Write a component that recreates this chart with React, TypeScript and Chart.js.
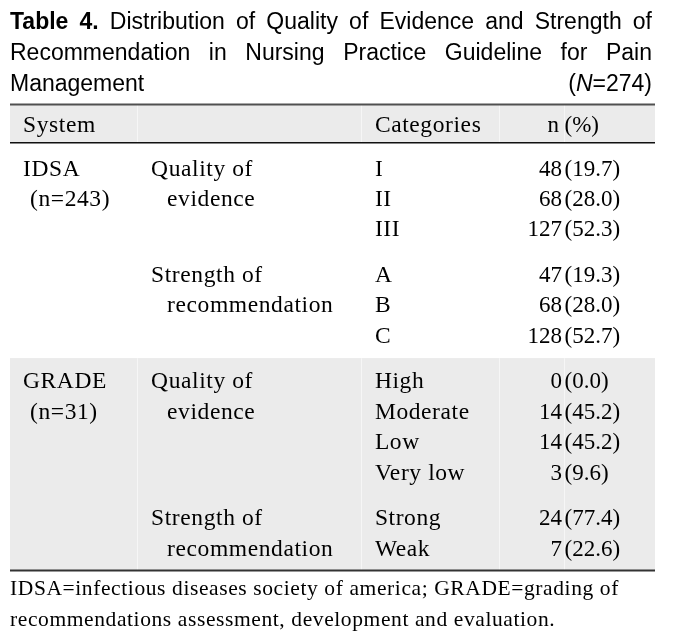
import React, { useEffect, useRef } from "react";
import { Chart, registerables } from "chart.js";

Chart.register(...registerables);

// ---------- data ----------
const titleLead = ["Table", "4."];
const titleText =
  "Distribution of Quality of Evidence and Strength of Recommendation in Nursing Practice Guideline for Pain Management";
const titleN = 274;

const headerSystem = "System";
const headerCategories = "Categories";
const headerN = "n";
const headerPct = "(%)";

const systems = ["IDSA", "GRADE"];
const systemNs = [243, 31];
const domainLabels = [
  ["Quality of", "evidence"],
  ["Strength of", "recommendation"],
];

const idsaQualityCats = ["I", "II", "III"];
const idsaQualityN = [48, 68, 127];
const idsaQualityPct = [19.7, 28.0, 52.3];

const idsaStrengthCats = ["A", "B", "C"];
const idsaStrengthN = [47, 68, 128];
const idsaStrengthPct = [19.3, 28.0, 52.7];

const gradeQualityCats = ["High", "Moderate", "Low", "Very low"];
const gradeQualityN = [0, 14, 14, 3];
const gradeQualityPct = [0.0, 45.2, 45.2, 9.6];

const gradeStrengthCats = ["Strong", "Weak"];
const gradeStrengthN = [24, 7];
const gradeStrengthPct = [77.4, 22.6];

const footnoteLines = [
  "IDSA=infectious diseases society of america; GRADE=grading of",
  "recommendations assessment, development and evaluation.",
];

// ---------- table structure (built from data) ----------
type Block = { system: number; domain: number; cats: string[]; n: number[]; pct: number[] };
const blocks: Block[] = [
  { system: 0, domain: 0, cats: idsaQualityCats, n: idsaQualityN, pct: idsaQualityPct },
  { system: 0, domain: 1, cats: idsaStrengthCats, n: idsaStrengthN, pct: idsaStrengthPct },
  { system: 1, domain: 0, cats: gradeQualityCats, n: gradeQualityN, pct: gradeQualityPct },
  { system: 1, domain: 1, cats: gradeStrengthCats, n: gradeStrengthN, pct: gradeStrengthPct },
];

type Row = { slot: number; col0: string; col0Indent: boolean; col1: string; col1Indent: boolean; cat: string; n: number; pct: number; system: number };
const rows: Row[] = [];
const sectionStart: number[] = [];
{
  let slot = 1.45;
  let prevSystem = -1;
  blocks.forEach((b) => {
    b.cats.forEach((c, i) => {
      let col0 = "";
      let col0Indent = false;
      if (b.system !== prevSystem) {
        if (i === 0) col0 = systems[b.system];
        if (i === 1) {
          col0 = `(n=${systemNs[b.system]})`;
          col0Indent = true;
        }
      }
      const dl = domainLabels[b.domain];
      rows.push({
        slot,
        col0,
        col0Indent,
        col1: i < dl.length ? dl[i] : "",
        col1Indent: i > 0,
        cat: c,
        n: b.n[i],
        pct: b.pct[i],
        system: b.system,
      });
      if (i === 0 && b.system !== prevSystem) sectionStart[b.system] = slot;
      slot += 1;
    });
    prevSystem = b.system;
    slot += 0.5;
  });
}
const headerSlot = 0;
const tableTopSlot = -0.625;
const headerBottomSlot = 0.625;
const lastSlot = rows[rows.length - 1].slot;
const tableBottomSlot = lastSlot + 0.72;
const gradeBoundarySlot = sectionStart[1] - 0.75;

// column edges as fractions of the table width
const colEdges = [0, 0.197, 0.544, 0.758, 0.859, 1];

const SERIF = '"Liberation Serif", "Times New Roman", serif';
const SANS = '"Liberation Sans", Arial, sans-serif';

const tablePlugin = {
  id: "tableDraw",
  afterDraw(chart: any) {
    const { ctx, chartArea, scales } = chart;
    const xs = scales.x;
    const ys = scales.y;
    const X = (f: number) => xs.getPixelForValue(f);
    const Y = (s: number) => ys.getPixelForValue(s);
    const left = chartArea.left;
    const right = chartArea.right;
    const w = right - left;
    ctx.save();

    // backgrounds
    const gray = "#ebebeb";
    ctx.fillStyle = gray;
    ctx.fillRect(left, Y(tableTopSlot), w, Y(headerBottomSlot) - Y(tableTopSlot));
    ctx.fillRect(left, Y(gradeBoundarySlot), w, Y(tableBottomSlot) - Y(gradeBoundarySlot));

    // faint vertical cell dividers
    ctx.fillStyle = "#f6f6f6";
    for (let i = 1; i < colEdges.length - 1; i++) {
      const px = Math.round(X(colEdges[i]));
      ctx.fillRect(px, Y(tableTopSlot), 1, Y(headerBottomSlot) - Y(tableTopSlot));
      ctx.fillRect(px, Y(gradeBoundarySlot), 1, Y(tableBottomSlot) - Y(gradeBoundarySlot));
    }

    // horizontal rules
    ctx.fillStyle = "#505050";
    ctx.fillRect(left, Y(tableTopSlot) - 1.5, w, 2);
    ctx.fillStyle = "#111";
    ctx.fillRect(left, Y(headerBottomSlot) - 1, w, 1.5);
    ctx.fillStyle = "#333";
    ctx.fillRect(left, Y(tableBottomSlot) - 0.5, w, 2);

    // table text
    const base = (s: number) => Y(s) + 7.5;
    const labelFont = `23.5px ${SERIF}`;
    ctx.fillStyle = "#000";
    ctx.textBaseline = "alphabetic";
    const c0 = X(colEdges[0]) + 13;
    const c1 = X(colEdges[1]) + 14;
    const c2 = X(colEdges[2]) + 14;
    const nRight = X(colEdges[4]) - 2;
    const pLeft = X(colEdges[4]) + 0.5;

    const label = (t: string, x: number, y: number) => {
      ctx.font = labelFont;
      (ctx as any).letterSpacing = "0.6px";
      ctx.textAlign = "left";
      ctx.fillText(t, x, y);
    };
    const num = (t: string, x: number, y: number, align: CanvasTextAlign) => {
      ctx.font = `23px ${SERIF}`;
      (ctx as any).letterSpacing = "0px";
      ctx.textAlign = align;
      ctx.fillText(t, x, y);
    };

    // header
    label(headerSystem, c0, base(headerSlot));
    label(headerCategories, c2, base(headerSlot));
    num(headerN, nRight - 3, base(headerSlot), "right");
    num(headerPct, pLeft, base(headerSlot), "left");

    rows.forEach((r) => {
      const yb = base(r.slot);
      if (r.col0) label(r.col0, c0 + (r.col0Indent ? 7 : 0), yb);
      if (r.col1) label(r.col1, c1 + (r.col1Indent ? 16 : 0), yb);
      label(r.cat, c2, yb);
      num(String(r.n), nRight, yb, "right");
      num(`(${r.pct.toFixed(1)})`, pLeft, yb, "left");
    });

    // title (justified)
    (ctx as any).letterSpacing = "0px";
    ctx.fillStyle = "#000";
    const boldFont = `bold 23px ${SANS}`;
    const regFont = `23px ${SANS}`;
    const words = [
      ...titleLead.map((t) => ({ t, bold: true })),
      ...titleText.split(" ").map((t) => ({ t, bold: false })),
    ].map((wd) => {
      ctx.font = wd.bold ? boldFont : regFont;
      return { ...wd, w: ctx.measureText(wd.t).width };
    });
    ctx.font = regFont;
    const spaceW = ctx.measureText(" ").width;
    const tLeft = left;
    const tRight = right - 3;
    const maxW = tRight - tLeft;
    const lines: typeof words[] = [];
    let cur: typeof words = [];
    let curW = 0;
    words.forEach((wd) => {
      const add = cur.length ? spaceW + wd.w : wd.w;
      if (cur.length && curW + add > maxW) {
        lines.push(cur);
        cur = [wd];
        curW = wd.w;
      } else {
        cur.push(wd);
        curW += add;
      }
    });
    if (cur.length) lines.push(cur);
    ctx.textAlign = "left";
    lines.forEach((ln, li) => {
      const yb = 29 + li * 31;
      const isLast = li === lines.length - 1;
      const sumW = ln.reduce((a, b) => a + b.w, 0);
      const gap = !isLast && ln.length > 1 ? (maxW - sumW) / (ln.length - 1) : spaceW;
      let xx = tLeft;
      ln.forEach((wd) => {
        ctx.font = wd.bold ? boldFont : regFont;
        ctx.fillText(wd.t, xx, yb);
        xx += wd.w + gap;
      });
      if (isLast) {
        const parts = [
          { t: "(", f: regFont },
          { t: "N", f: `italic 23px ${SANS}` },
          { t: `=${titleN})`, f: regFont },
        ];
        let total = 0;
        parts.forEach((p) => {
          ctx.font = p.f;
          total += ctx.measureText(p.t).width;
        });
        let px = tRight - total;
        parts.forEach((p) => {
          ctx.font = p.f;
          ctx.fillText(p.t, px, yb);
          px += ctx.measureText(p.t).width;
        });
      }
    });

    // footnote
    ctx.font = `21.5px ${SERIF}`;
    (ctx as any).letterSpacing = "0.6px";
    ctx.fillStyle = "#000";
    ctx.textAlign = "left";
    footnoteLines.forEach((t, i) => {
      ctx.fillText(t, left, Y(tableBottomSlot) + 25 + i * 31);
    });
    (ctx as any).letterSpacing = "0px";
    ctx.restore();
  },
};

export default function App() {
  const ref = useRef<HTMLCanvasElement | null>(null);
  useEffect(() => {
    document.body.style.margin = "0";
    const canvas = ref.current;
    if (!canvas) return;
    const chart = new Chart(canvas, {
      type: "scatter",
      data: {
        datasets: [
          {
            data: rows.map((r) => ({ x: 0, y: r.slot })),
            pointRadius: 0,
            showLine: false,
          },
        ],
      },
      options: {
        responsive: false,
        animation: false,
        devicePixelRatio: 1,
        layout: { padding: { top: 105, bottom: 66, left: 10, right: 19 } },
        scales: {
          x: { type: "linear", min: 0, max: 1, display: false },
          y: { type: "linear", min: tableTopSlot, max: tableBottomSlot, reverse: true, display: false },
        },
        plugins: { legend: { display: false }, tooltip: { enabled: false }, title: { display: false } },
        events: [],
      },
      plugins: [tablePlugin],
    });
    return () => chart.destroy();
  }, []);
  return (
    <div style={{ width: 674, height: 636, background: "#fff" }}>
      <canvas ref={ref} width={674} height={636} style={{ display: "block" }} />
    </div>
  );
}
